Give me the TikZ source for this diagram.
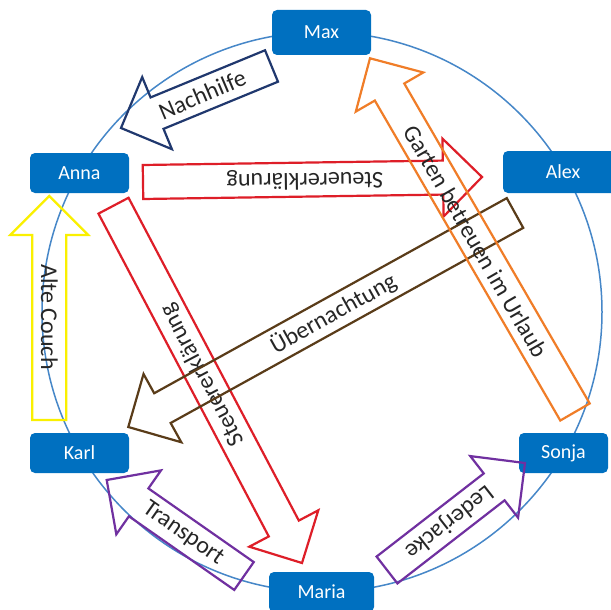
\documentclass[tikz,border=0pt]{standalone}
\usepackage{fontspec}
\setmainfont{Carlito}
\usetikzlibrary{calc}
\definecolor{nodeblue}{RGB}{0,112,192}
\definecolor{circblue}{RGB}{70,135,200}
\definecolor{navy}{RGB}{32,56,110}
\definecolor{redA}{RGB}{222,30,40}
\definecolor{brownA}{RGB}{90,60,25}
\definecolor{orangeA}{RGB}{240,125,40}
\definecolor{yellowA}{RGB}{250,240,0}
\definecolor{purpleA}{RGB}{112,48,160}
\definecolor{textgray}{RGB}{38,38,38}
\tikzset{
  person/.style={rectangle, rounded corners=5pt, fill=nodeblue, text=white,
    font=\fontsize{20}{24}\selectfont, minimum width=99pt, minimum height=40pt, inner sep=0pt},
  circline/.style={draw=circblue, line width=1.5pt},
  blockarrow/.style={line width=2.2pt, line join=miter},
  arrowtext/.style={font=\fontsize{24}{28}\selectfont, text=textgray, inner sep=0pt},
}
% #1 colour, #2 tail coordinate, #3 tip coordinate, #4 label, #5 fraction, #6 rotation
\newcommand{\blockarr}[6]{%
  \coordinate (#2base) at ($(#3)!39pt!(#2)$);
  \draw[blockarrow, draw=#1]
    ($(#2)!17pt!90:(#3)$) -- ($(#2base)!17pt!90:(#3)$) -- ($(#2base)!39pt!90:(#3)$)
    -- (#3) -- ($(#2base)!39pt!-90:(#3)$) -- ($(#2base)!17pt!-90:(#3)$)
    -- ($(#2)!17pt!-90:(#3)$) -- cycle;
  \node[arrowtext, rotate=#6] (#2lab) at ($(#2)!#5!(#3)$) {#4};
}
\begin{document}
\begin{tikzpicture}[x=1pt, y=-1pt]
\useasboundingbox (0,0) rectangle (611,610);
\fill[white] (0,0) rectangle (611,610);
\coordinate (ctr) at (322,312);
\draw[circline] (ctr) circle (280pt);

\node[person, minimum height=45pt] (max) at (321.5,32.5) {Max};
\node[person] (anna) at (79.5,173) {Anna};
\node[person, minimum width=120pt, minimum height=42pt] (alex) at (563,172) {Alex};
\node[person] (karl) at (79.5,453) {Karl};
\node[person, minimum width=89pt] (sonja) at (563.5,453) {Sonja};
\node[person, minimum width=105pt] (maria) at (321.5,592) {Maria};

% tails and tips
\coordinate (nhT) at (271.5,66);   \coordinate (nhH) at (121,128);
\coordinate (shT) at (143,182);    \coordinate (shH) at (482,177);
\coordinate (sdT) at (113.5,205.7);\coordinate (sdH) at (302,563);
\coordinate (ueT) at (515,213);    \coordinate (ueH) at (128.3,427);
\coordinate (gaT) at (575,412);    \coordinate (gaH) at (370,58.3);
\coordinate (acT) at (49.2,420);   \coordinate (acH) at (49.3,196);
\coordinate (trT) at (244,576);    \coordinate (trH) at (106.7,480);
\coordinate (ljT) at (387,570);    \coordinate (ljH) at (525,463);

\blockarr{navy}{nhT}{nhH}{Nachhilfe}{0.46}{23}
\blockarr{redA}{shT}{shH}{Steuererklärung}{0.478}{180.8}
\blockarr{redA}{sdT}{sdH}{Steuererklärung}{0.474}{117.8}
\blockarr{brownA}{ueT}{ueH}{Übernachtung}{0.47}{29}
\blockarr{orangeA}{gaT}{gaH}{Garten betreuen im Urlaub}{0.483}{-60}
\blockarr{yellowA}{acT}{acH}{Alte Couch}{0.46}{-90}
\blockarr{purpleA}{trT}{trH}{Transport}{0.444}{-35}
\blockarr{purpleA}{ljT}{ljH}{Lederjacke}{0.45}{218}
\end{tikzpicture}
\end{document}
